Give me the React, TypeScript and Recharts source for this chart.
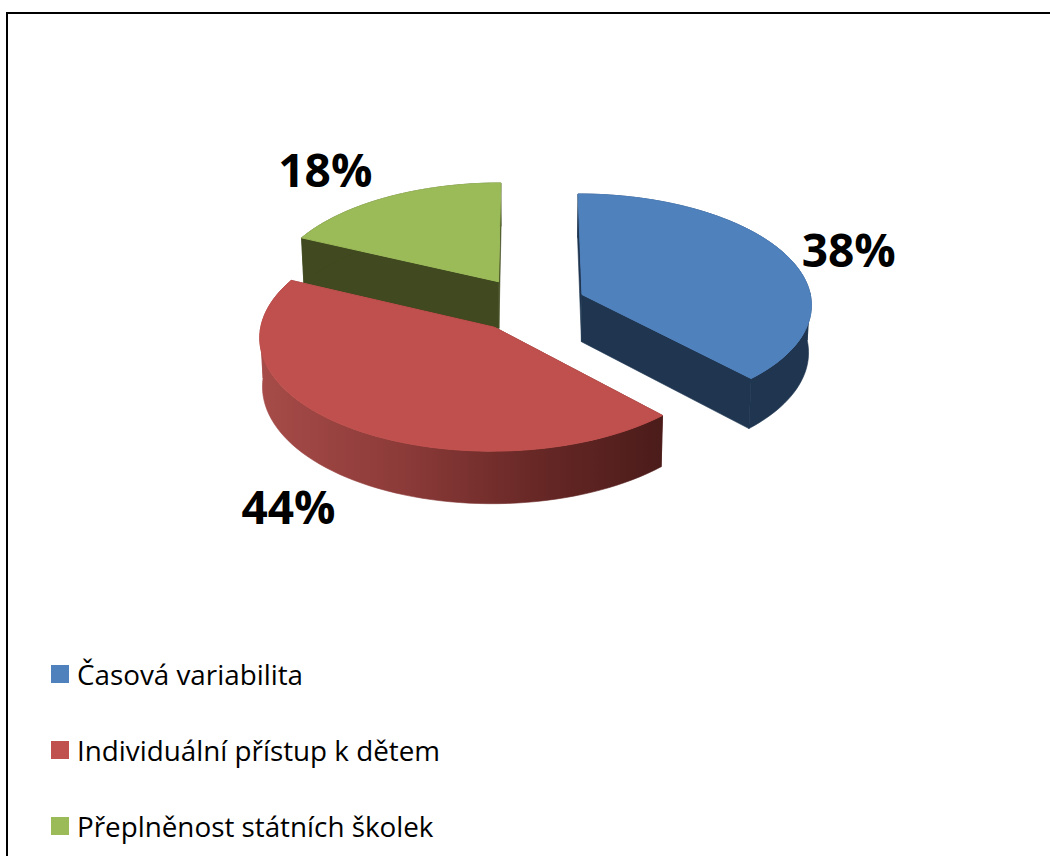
import React from "react";
import { PieChart, Pie, Legend } from "recharts";

// Chart content
const categories = ["Časová variabilita", "Individuální přístup k dětem", "Přeplněnost státních školek"];
const shares = [38, 44, 18];
const topColors = ["#4f81bd", "#c0504d", "#9bbb59"];
const wallColors = ["#1f3550", "#4f1e1c", "#40491f"];

// Back slices are painted first so the large red slice can overlap the green wall.
const paintOrder = [2, 0, 1];
const labelNudges: [number, number][] = [
  [62, -7],
  [-56.5, 80],
  [-61.5, -28],
];

// Projection constants for the tilted pie
const TILT = 0.479;
const PERSPECTIVE = 0.08;
const EXPLODE = 0.25;
const DEPTH = 47.5;
const FLOOR_SCALE = 0.99;
const STEPS = 72;

const FONT = "'Open Sans', Lato, sans-serif";

const redWallStops: [string, string][] = [
  ["0%", "#a64b48"],
  ["35%", "#8c3b39"],
  ["68%", "#682826"],
  ["100%", "#4b1c1a"],
];

const chartData = paintOrder.map((i) => ({
  name: categories[i],
  value: shares[i],
  fill: topColors[i],
  categoryIndex: i,
}));

const total = shares.reduce((a, b) => a + b, 0);
const firstStart = 90 + (shares[2] / total) * 360;

const rad = (d: number) => (d * Math.PI) / 180;

type Pt = { x: number; y: number };

function projector(cx: number, cy: number, rx: number, midAngle: number) {
  const ry = rx * TILT;
  const ox = EXPLODE * Math.cos(rad(midAngle));
  const oy = -EXPLODE * Math.sin(rad(midAngle));
  const surface = (angle: number | null): { x: number; y: number; s: number } => {
    const X = ox + (angle === null ? 0 : Math.cos(rad(angle)));
    const Y = oy - (angle === null ? 0 : Math.sin(rad(angle)));
    const s = 1 / (1 - PERSPECTIVE * Y);
    return { x: cx + rx * X * s, y: cy + ry * Y * s, s };
  };
  const top = (angle: number | null): Pt => {
    const p = surface(angle);
    return { x: p.x, y: p.y };
  };
  const floor = (angle: number | null): Pt => {
    const p = surface(angle);
    return { x: cx + (p.x - cx) * FLOOR_SCALE, y: p.y + DEPTH * p.s };
  };
  return { top, floor };
}

const toPath = (pts: Pt[]) =>
  pts.map((p, i) => `${i ? "L" : "M"}${p.x.toFixed(2)} ${p.y.toFixed(2)}`).join(" ") + " Z";

// Splits an arc into runs that stay on one side of the horizontal diameter, so each
// rim polygon keeps a single winding direction and fills without holes.
function splitArc(arc: number[]): number[][] {
  const runs: number[][] = [];
  let run: number[] = [arc[0]];
  for (let k = 1; k < arc.length; k++) {
    const crossed = Math.sin(rad(arc[k - 1])) * Math.sin(rad(arc[k])) < 0;
    if (crossed) {
      runs.push(run);
      run = [arc[k - 1]];
    }
    run.push(arc[k]);
  }
  runs.push(run);
  return runs;
}

function PieSlice(props: any) {
  const { cx, cy, outerRadius, startAngle, endAngle, midAngle, payload } = props;
  const idx = payload?.categoryIndex ?? props.categoryIndex;
  const { top, floor } = projector(cx, cy, outerRadius, midAngle);
  const arc: number[] = [];
  for (let k = 0; k <= STEPS; k++) arc.push(startAngle + ((endAngle - startAngle) * k) / STEPS);

  const rims = splitArc(arc).map((run) => [...run.map((a) => top(a)), ...[...run].reverse().map((a) => floor(a))]);
  const wallA = [top(null), top(startAngle), floor(startAngle), floor(null)];
  const wallB = [top(null), top(endAngle), floor(endAngle), floor(null)];
  const face = [top(null), ...arc.map((a) => top(a))];
  const wall = wallColors[idx];
  const rimFill = idx === 1 ? "url(#redWall)" : wall;

  return (
    <g>
      <path d={toPath(wallA)} fill={wall} stroke={wall} strokeWidth={0.6} />
      <path d={toPath(wallB)} fill={wall} stroke={wall} strokeWidth={0.6} />
      {rims.map((rim, i) => (
        <path key={i} d={toPath(rim)} fill={rimFill} stroke={rimFill} strokeWidth={0.6} />
      ))}
      <path d={toPath(face)} fill={topColors[idx]} stroke={topColors[idx]} strokeWidth={1} />
    </g>
  );
}

function SliceLabel(props: any) {
  const { cx, cy, outerRadius, midAngle, payload, value } = props;
  const idx = payload?.categoryIndex;
  const { top } = projector(cx, cy, outerRadius, midAngle);
  const p = top(midAngle);
  const [dx, dy] = labelNudges[idx];
  return (
    <text
      x={p.x + dx}
      y={p.y + dy}
      textAnchor="middle"
      dominantBaseline="central"
      fontFamily={FONT}
      fontWeight={700}
      fontSize={46}
      fill="#000"
    >
      {`${value}%`}
    </text>
  );
}

function LegendRows() {
  return (
    <div style={{ position: "relative", width: 500, height: 200 }}>
      {categories.map((name, i) => (
        <div
          key={name}
          style={{
            position: "absolute",
            left: 51,
            top: i * 76,
            height: 40,
            display: "flex",
            alignItems: "center",
            fontFamily: FONT,
            fontSize: 27.8,
            color: "#000",
            whiteSpace: "nowrap",
          }}
        >
          <span style={{ width: 18, height: 18, background: topColors[i], marginRight: 8, flex: "none" }} />
          {name}
        </div>
      ))}
    </div>
  );
}

export default function App() {
  return (
    <div style={{ position: "absolute", left: 0, top: 0, width: 1050, height: 856, overflow: "hidden", background: "#fff" }}>
      <div
        style={{
          position: "absolute",
          left: 6,
          top: 12,
          width: 1200,
          height: 1200,
          border: "2px solid #000",
        }}
      />
      <div style={{ position: "absolute", left: 0, top: 0 }}>
        <PieChart width={1050} height={856} margin={{ top: 0, right: 0, bottom: 0, left: 0 }}>
          <defs>
            <linearGradient id="redWall" gradientUnits="userSpaceOnUse" x1="262" y1="0" x2="662" y2="0">
              {redWallStops.map(([offset, color]) => (
                <stop key={offset} offset={offset} stopColor={color} />
              ))}
            </linearGradient>
          </defs>
          <Pie
            data={chartData}
            dataKey="value"
            nameKey="name"
            cx={528.9}
            cy={304.6}
            outerRadius={230}
            innerRadius={0}
            startAngle={firstStart}
            endAngle={firstStart - 360}
            stroke="none"
            isAnimationActive={false}
            shape={PieSlice}
            label={SliceLabel}
            labelLine={false}
          />
          <Legend
            content={LegendRows}
            layout="vertical"
            wrapperStyle={{ position: "absolute", left: 0, top: 654, width: 500, height: 200 }}
          />
        </PieChart>
      </div>
    </div>
  );
}
